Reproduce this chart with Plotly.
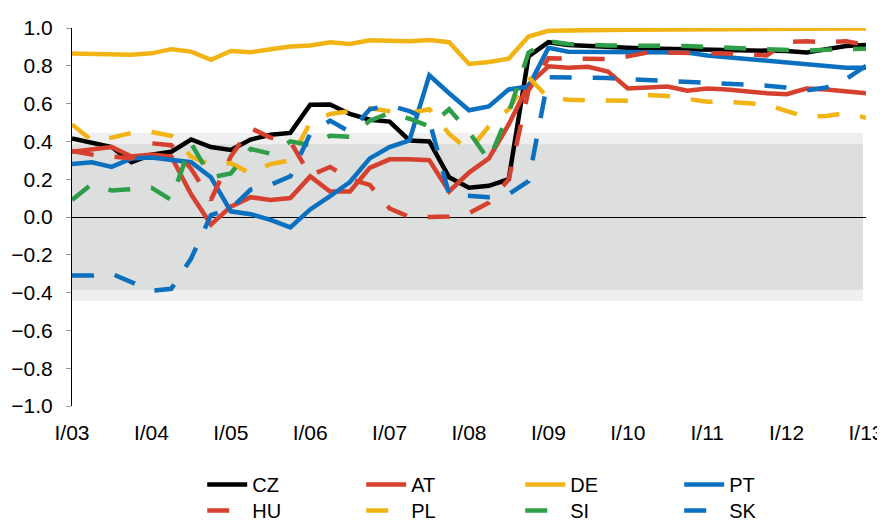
import plotly.graph_objects as go

roman = ["I", "II", "III", "IV"]
quarters = [f"{roman[q]}/{y:02d}" for y in range(3, 13) for q in range(4)] + ["I/13"]
tick_labels = ["I/03", "I/04", "I/05", "I/06", "I/07", "I/08", "I/09", "I/10", "I/11", "I/12", "I/13"]

CZ = [0.415, 0.39, 0.37, 0.29, 0.33, 0.345, 0.41, 0.37, 0.355, 0.41, 0.435, 0.445, 0.594, 0.595,
      0.545, 0.515, 0.505, 0.405, 0.40, 0.21, 0.155, 0.165, 0.20, 0.85, 0.925, 0.91, 0.905, 0.895,
      0.895, 0.892, 0.89, 0.89, 0.885, 0.885, 0.88, 0.88, 0.878, 0.87, 0.89, 0.905, 0.91]
AT = [0.345, 0.36, 0.37, 0.32, 0.33, 0.32, 0.12, -0.04, 0.055, 0.105, 0.09, 0.10, 0.215, 0.135,
      0.135, 0.26, 0.305, 0.305, 0.30, 0.135, 0.235, 0.31, 0.49, 0.70, 0.797, 0.79, 0.795, 0.77,
      0.68, 0.685, 0.69, 0.668, 0.68, 0.675, 0.662, 0.655, 0.65, 0.68, 0.675, 0.665, 0.655]
DE = [0.865, 0.862, 0.86, 0.858, 0.866, 0.888, 0.875, 0.832, 0.878, 0.872, 0.888, 0.902, 0.907,
      0.925, 0.915, 0.935, 0.933, 0.93, 0.937, 0.925, 0.81, 0.82, 0.838, 0.955, 0.985, 0.988, 0.99,
      0.99, 0.991, 0.992, 0.992, 0.993, 0.993, 0.994, 0.994, 0.995, 0.995, 0.996, 0.996, 0.997, 0.997]
PT = [0.28, 0.29, 0.265, 0.31, 0.315, 0.30, 0.29, 0.21, 0.03, 0.015, -0.015, -0.055, 0.04, 0.11,
      0.185, 0.31, 0.37, 0.405, 0.75, 0.655, 0.565, 0.585, 0.675, 0.69, 0.895, 0.875, 0.875, 0.875,
      0.875, 0.875, 0.875, 0.87, 0.855, 0.845, 0.838, 0.83, 0.82, 0.81, 0.80, 0.79, 0.79]
HU = [0.35, 0.33, 0.32, 0.31, 0.39, 0.38, 0.255, 0.09, 0.32, 0.47, 0.42, 0.40, 0.22, 0.265, 0.20,
      0.17, 0.045, 0.0, 0.0, 0.003, 0.02, 0.075, 0.2, 0.67, 0.84, 0.84, 0.838, 0.836, 0.85, 0.87,
      0.87, 0.87, 0.87, 0.865, 0.86, 0.855, 0.925, 0.93, 0.925, 0.93, 0.91]
PL = [0.49, 0.405, 0.42, 0.445, 0.45, 0.43, 0.32, 0.275, 0.285, 0.23, 0.28, 0.30, 0.50, 0.545, 0.56,
      0.575, 0.56, 0.55, 0.57, 0.44, 0.35, 0.48, 0.57, 0.74, 0.63, 0.62, 0.617, 0.615, 0.615, 0.645,
      0.64, 0.625, 0.61, 0.61, 0.605, 0.595, 0.56, 0.53, 0.535, 0.55, 0.525]
SI = [0.09, 0.175, 0.14, 0.145, 0.155, 0.09, 0.39, 0.21, 0.23, 0.36, 0.335, 0.40, 0.38, 0.43, 0.425,
      0.51, 0.55, 0.52, 0.48, 0.57, 0.45, 0.30, 0.55, 0.87, 0.93, 0.915, 0.91, 0.907, 0.907, 0.907,
      0.91, 0.905, 0.90, 0.895, 0.89, 0.885, 0.88, 0.88, 0.885, 0.886, 0.89]
SK = [-0.31, -0.31, -0.30, -0.345, -0.39, -0.38, -0.22, 0.01, 0.045, 0.145, 0.17, 0.215, 0.44, 0.51,
      0.45, 0.57, 0.59, 0.56, 0.51, 0.12, 0.115, 0.105, 0.12, 0.19, 0.74, 0.74, 0.74, 0.735, 0.73,
      0.725, 0.72, 0.715, 0.712, 0.709, 0.705, 0.695, 0.685, 0.67, 0.685, 0.73, 0.80]

band_outer = 0.445
band_inner = 0.385

series = [
    ("CZ", CZ, "#000000", "solid", "legend"),
    ("AT", AT, "#D6402E", "solid", "legend"),
    ("DE", DE, "#F2B315", "solid", "legend"),
    ("PT", PT, "#0B70BF", "solid", "legend"),
    ("HU", HU, "#D6402E", "22px,21px", "legend2"),
    ("PL", PL, "#F2B315", "22px,21px", "legend2"),
    ("SI", SI, "#2E9E48", "22px,21px", "legend2"),
    ("SK", SK, "#0B70BF", "22px,21px", "legend2"),
]

FONT = "Liberation Sans, Arial, sans-serif"

fig = go.Figure()
for name, vals, color, dash, leg in series:
    assert len(vals) == len(quarters)
    fig.add_trace(go.Scatter(x=quarters, y=vals, name=name, mode="lines", legend=leg,
                             line=dict(color=color, width=4.5, dash=dash)))

fig.add_shape(type="rect", xref="x", yref="y", x0=0, x1=39.85, y0=-band_outer, y1=band_outer,
              fillcolor="#EFEFEF", line=dict(width=0), layer="below")
fig.add_shape(type="rect", xref="x", yref="y", x0=0, x1=39.85, y0=-band_inner, y1=band_inner,
              fillcolor="#DDDEDE", line=dict(width=0), layer="below")

legend_common = dict(orientation="h", x=0.164, xanchor="left", yanchor="top",
                     entrywidth=104, entrywidthmode="pixels", tracegroupgap=0,
                     font=dict(family=FONT, size=20), itemwidth=40, bgcolor="rgba(0,0,0,0)")

fig.update_layout(
    width=877, height=516, autosize=False,
    margin=dict(l=64, r=19, t=20, b=118, autoexpand=False),
    paper_bgcolor="white", plot_bgcolor="white",
    font=dict(family=FONT, size=21, color="#000000"),
    showlegend=True,
    legend=dict(y=-0.156, **legend_common),
    legend2=dict(y=-0.2249, **legend_common),
    xaxis=dict(type="category", range=[0, 40], tickmode="array", tickvals=tick_labels,
               ticks="", showgrid=False, showline=False, zeroline=False, automargin=False,
               ticklabelstandoff=12, tickfont=dict(size=21)),
    yaxis=dict(range=[-1, 1], dtick=0.2, tickformat=".1f", ticks="outside", ticklen=5,
               tickcolor="#999999", showline=True, linecolor="#000000", linewidth=1,
               showgrid=False, zeroline=True, zerolinecolor="#000000", zerolinewidth=1,
               automargin=False, ticklabelstandoff=9, tickfont=dict(size=21)),
)

fig.write_html("out.html")
